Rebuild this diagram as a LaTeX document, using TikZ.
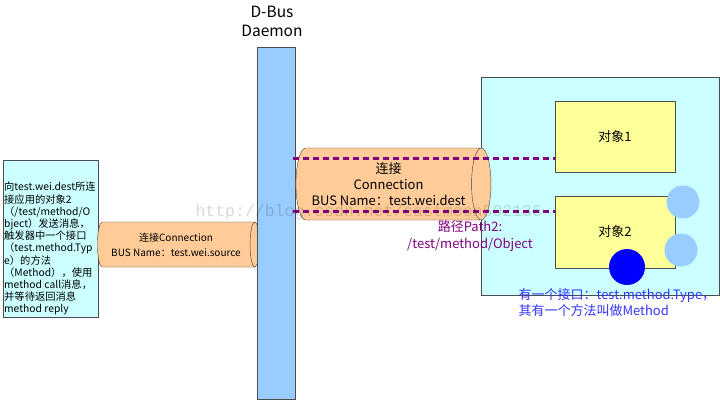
\documentclass[tikz,border=0pt]{standalone}
\usepackage{fontspec}
\setmainfont{Noto Sans CJK SC}
\newfontfamily\wmfont{Liberation Mono}
\usetikzlibrary{shapes.geometric}
\definecolor{boxcyan}{HTML}{CCFFFF}
\definecolor{connorange}{HTML}{FFCC99}
\definecolor{daemonblue}{HTML}{99CCFF}
\definecolor{objyellow}{HTML}{FFFF99}
\definecolor{pathpurple}{HTML}{800080}
\definecolor{methodblue}{HTML}{3333FF}
\tikzset{x=1pt,y=-1pt,
 conn/.style={cylinder,shape border rotate=0,draw=black!75,fill=connorange,
   align=center,inner sep=0pt},
 objbox/.style={draw=black!70,fill=objyellow,minimum width=120pt,font=\fontsize{13}{15}\selectfont},
 ifdot/.style={circle,fill=daemonblue,minimum size=33pt,inner sep=0pt},
 pathdots/.style={draw=pathpurple,line width=3pt,dash pattern=on 6pt off 4pt},
 }

\begin{document}
\begin{tikzpicture}
    \useasboundingbox (0,0) rectangle (720,400);
    % sender application
    \node[draw=black!70,fill=boxcyan,minimum width=95pt,minimum height=157pt,inner sep=0pt] (src) at (50.5,238.5) {};
    \node[anchor=north west,inner sep=0pt,align=left,font=\fontsize{10.3}{12.2}\selectfont] (srctext) at (4,182)
        {向test.wei.dest所连\\接应用的对象2\\（/test/method/O\\bject）发送消息，\\触发器中一个接口\\（test.method.Typ\\e）的方法\\（Method），使用\\method call消息，\\并等待返回消息\\method reply};
    \node[conn,shape aspect=0.4,minimum height=162pt,minimum width=45pt,font=\fontsize{10}{15}\selectfont] (srcconn) at (176,244.5)
        {连接Connection\\BUS Name：test.wei.source};
    % daemon
    \node[cylinder,shape border rotate=90,draw=black!70,fill=daemonblue,shape aspect=0.7,
        minimum width=38pt,minimum height=352pt,inner sep=0pt] (daemon) at (276,223) {};
    \node[align=center,font=\fontsize{15.5}{19}\selectfont] (title) at (272,21) {D-Bus\\Daemon};
    % receiving application
    \node[draw=black!70,fill=boxcyan,minimum width=238pt,minimum height=218pt,inner sep=0pt] (dest) at (600,186) {};
    \node[objbox,minimum height=71pt] (obj1) at (615,136.5) {对象1};
    \node[objbox,minimum height=72pt] (obj2) at (615,232) {对象2};
    \node[conn,shape aspect=0.45,minimum height=195pt,minimum width=72pt,font=\fontsize{13}{16}\selectfont] (destconn) at (388.5,184)
        {连接\\Connection\\BUS Name：test.wei.dest};
    \coordinate (p1) at (293,158);
    \coordinate (p2) at (293,211);
    \draw[pathdots] (p1) -- (p1 -| obj1.west);
    \draw[pathdots] (p2) -- (p2 -| obj2.west);
    \node[ifdot] (if1) at (683,202) {};
    \node[ifdot] (if2) at (681,250) {};
    \node[circle,fill=blue,minimum size=36pt,inner sep=0pt] (meth) at (627,267) {};
    % labels
    \node[align=center,text=pathpurple,font=\fontsize{13}{16.5}\selectfont] (path) at (470,236) {路径Path2:\\/test/method/Object};
    \node[anchor=west,align=left,text=methodblue,font=\fontsize{13}{16}\selectfont] (methtext) at (515,303)
        {有一个接口：test.method.Type，\\其有一个方法叫做Method};
    \node[anchor=west,text=black,opacity=0.15,font=\wmfont\fontsize{16.5}{18}\selectfont] (wm) at (192,212)
        {http://blog.csdn.net/eastmoon502136};
\end{tikzpicture}
\end{document}
